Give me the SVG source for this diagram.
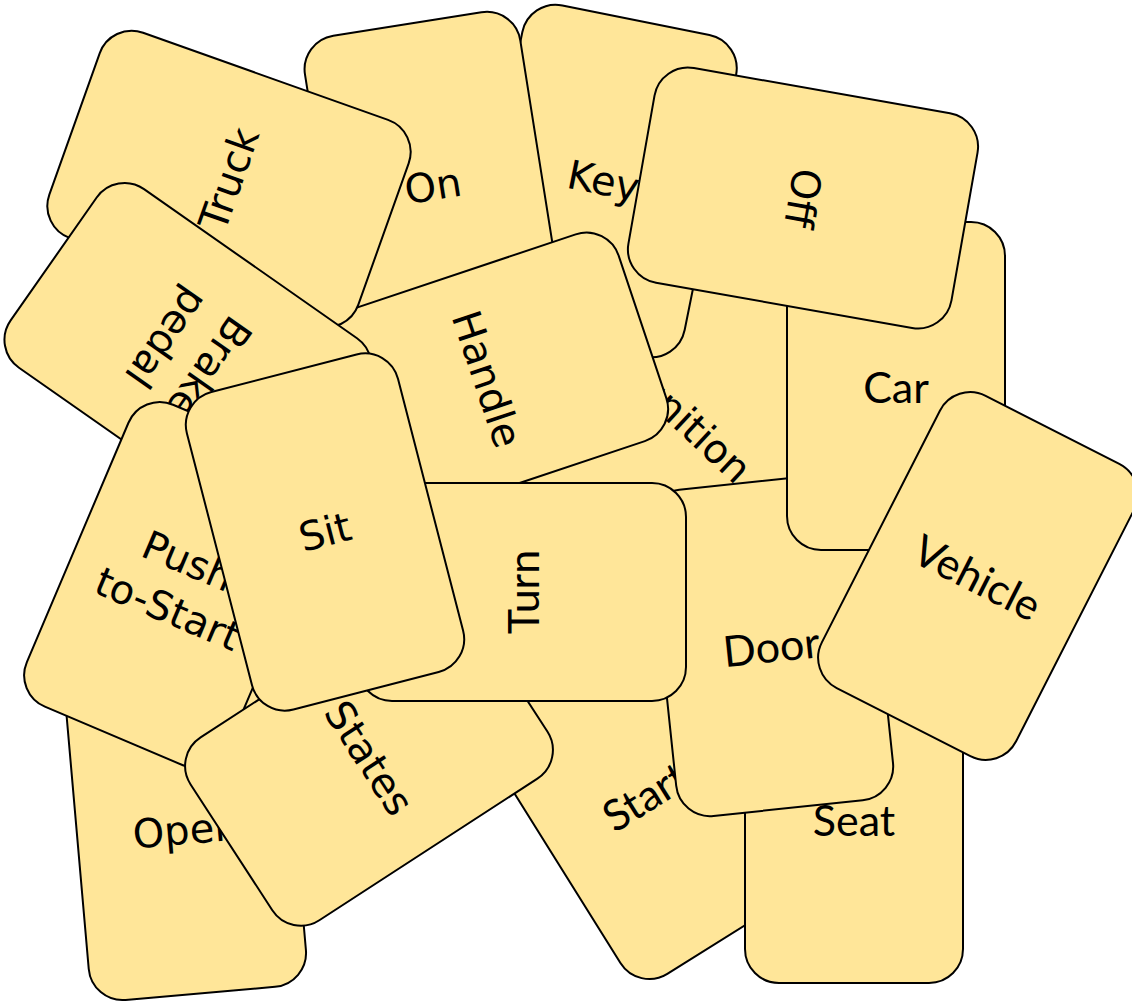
<svg xmlns="http://www.w3.org/2000/svg" width="1132" height="1002" viewBox="0 0 1132 1002">
  <style>
    .card { fill: #FFE699; stroke: #000000; stroke-width: 2; }
    .dv { font-family: "DejaVu Sans", "Open Sans", sans-serif; font-size: 40px; fill: #000000; text-anchor: middle; }
    .cb { font-family: Lato, "Open Sans", sans-serif; font-size: 43px; fill: #000000; text-anchor: middle; }
  </style>
  <rect x="0" y="0" width="1132" height="1002" fill="#FFFFFF"/>
  <defs>
    <rect id="c" class="card" x="-109" y="-164" width="218" height="328" rx="34" ry="34"/>
  </defs>

  <g id="card-ignition" transform="translate(690 424) rotate(43)">
    <use href="#c"/>
    <text class="dv" x="0" y="0" dy="0.35em">Ignition</text>
  </g>
  <g id="card-key" transform="translate(603.5 181) rotate(11.4)">
    <use href="#c"/>
    <text class="dv" x="0" y="0" dy="0.35em">Key</text>
  </g>
  <g id="card-on" transform="translate(433 186) rotate(-9)">
    <use href="#c"/>
    <text class="dv" x="0" y="0" dy="0.35em">On</text>
  </g>
  <g id="card-handle" transform="translate(487 379) rotate(71.5)">
    <use href="#c"/>
    <text class="dv" x="0" y="0" dy="0.35em">Handle</text>
  </g>
  <g id="card-truck" transform="translate(229 179) rotate(-70.4)">
    <use href="#c"/>
    <text class="dv" x="0" y="0" dy="0.35em">Truck</text>
  </g>
  <g id="card-brake-pedal" transform="translate(188 353) rotate(125)">
    <use href="#c"/>
    <text class="dv" x="0" y="0"><tspan x="0" dy="-0.3em">Brake</tspan><tspan x="0" dy="1.3em">pedal</tspan></text>
  </g>
  <g id="card-open" transform="translate(186 830) rotate(-5)">
    <use href="#c"/>
    <text class="dv" x="0" y="0" dy="0.35em">Open</text>
  </g>
  <g id="card-push-to-start" transform="translate(178 585) rotate(23)">
    <use href="#c"/>
    <text class="dv" x="0" y="0"><tspan x="0" dy="-0.3em">Push</tspan><tspan x="0" dy="1.3em">to-Start</tspan></text>
  </g>
  <g id="card-start" transform="translate(644 795) rotate(-32)">
    <use href="#c"/>
    <text class="cb" x="0" y="0" dy="0.4em">Start</text>
  </g>
  <g id="card-seat" transform="translate(854 819)">
    <use href="#c"/>
    <text class="cb" x="0" y="0" dy="0.4em">Seat</text>
  </g>
  <g id="card-door" transform="translate(771 645) rotate(-6)">
    <use href="#c"/>
    <text class="cb" x="0" y="0" dy="0.4em">Door</text>
  </g>
  <g id="card-car" transform="translate(896 386)">
    <use href="#c"/>
    <text class="cb" x="0" y="0" dy="0.4em">Car</text>
  </g>
  <g id="card-off" transform="translate(803 198) rotate(100)">
    <use href="#c"/>
    <text class="dv" x="0" y="0" dy="0.35em">Off</text>
  </g>
  <g id="card-states" transform="translate(369 758) rotate(57)">
    <use href="#c"/>
    <text class="dv" x="0" y="0" dy="0.35em">States</text>
  </g>
  <g id="card-turn" transform="translate(522 592) rotate(-90)">
    <use href="#c"/>
    <text class="cb" x="0" y="0" dy="0.4em">Turn</text>
  </g>
  <g id="card-sit" transform="translate(325 532) rotate(-14.5)">
    <use href="#c"/>
    <text class="dv" x="0" y="0" dy="0.35em">Sit</text>
  </g>
  <g id="card-vehicle" transform="translate(978 576) rotate(27)">
    <use href="#c"/>
    <text class="cb" x="0" y="0" dy="0.4em">Vehicle</text>
  </g>
</svg>
